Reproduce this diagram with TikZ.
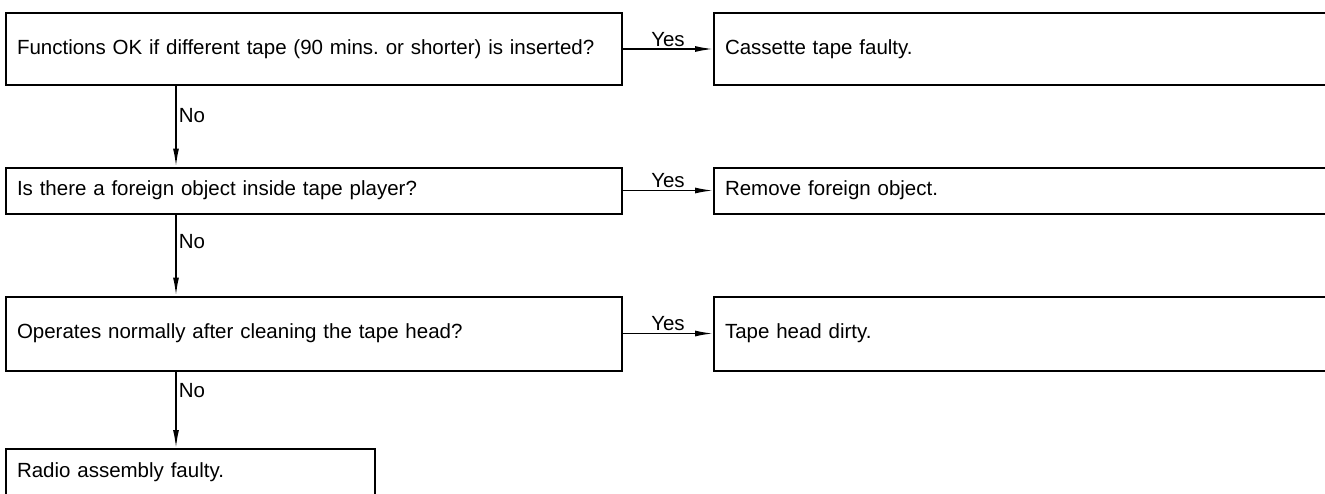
\documentclass[tikz,border=0pt]{standalone}
\usepackage{fontspec}
\setmainfont{Liberation Sans}
\usetikzlibrary{arrows.meta}
\frenchspacing

\begin{document}
\begin{tikzpicture}[
  x=1pt, y=-1pt,
  box/.style={draw, line width=2pt, anchor=north west, inner xsep=11pt, inner ysep=0pt,
    align=left, font=\fontsize{20.5}{24}\selectfont},
  flow/.style={line width=1.5pt, -{Latex[length=18pt, width=6pt]}},
  lbl/.style={font=\fontsize{20.5}{24}\selectfont, inner sep=2pt}
]
\clip (0,0) rectangle (1325,493);

% Questions
\node[box, text width=594pt, minimum height=72pt] (Q1) at (5,12) {Functions OK if different tape (90 mins. or shorter) is inserted?};
\node[box, text width=594pt, minimum height=46pt] (Q2) at (5,166.5) {Is there a foreign object inside tape player?};
\node[box, text width=594pt, minimum height=74pt] (Q3) at (5,295.5) {Operates normally after cleaning the tape head?};
\node[box, text width=347pt, minimum height=46pt] (Q4) at (5,448) {Radio assembly faulty.};

% Answers
\node[box, text width=600pt, minimum height=72pt] (A1) at (713,12) {Cassette tape faulty.};
\node[box, text width=600pt, minimum height=46pt] (A2) at (713,166.5) {Remove foreign object.};
\node[box, text width=600pt, minimum height=74pt] (A3) at (713,295.5) {Tape head dirty.};

% Yes arrows
\draw[flow] (Q1.east) -- (A1.west) node[lbl, midway, above] {Yes};
\draw[flow] (Q2.east) -- (A2.west) node[lbl, midway, above] {Yes};
\draw[flow] (Q3.east) -- (A3.west) node[lbl, midway, above] {Yes};

% No arrows
\draw[flow] ([xshift=171pt]Q1.south west) -- ([xshift=171pt]Q2.north west) node[lbl, pos=0.37, right] {No};
\draw[flow] ([xshift=171pt]Q2.south west) -- ([xshift=171pt]Q3.north west) node[lbl, pos=0.33, right] {No};
\draw[flow] ([xshift=171pt]Q3.south west) -- ([xshift=171pt]Q4.north west) node[lbl, pos=0.25, right] {No};

\end{tikzpicture}
\end{document}
